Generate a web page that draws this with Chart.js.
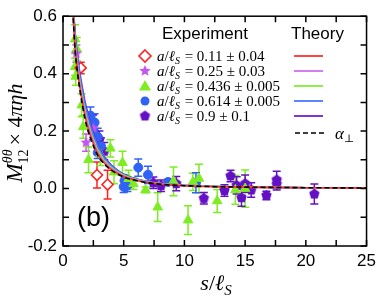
<!DOCTYPE html>
<html><head><meta charset="utf-8">
<script src="https://cdn.jsdelivr.net/npm/chart.js@4/dist/chart.umd.min.js"></script>
<style>html,body{margin:0;padding:0;background:#fff;}#wrap{width:381px;height:298px;}</style>
</head><body><div id="wrap"><canvas id="c" width="381" height="298"></canvas></div>
<script>
// ---- data ----
const xTickLabels = ['0','5','10','15','20','25'];
const yTickLabels = ['-0.2','0.0','0.2','0.4','0.6'];
const seriesNames = ['0.11 \u00b1 0.04','0.25 \u00b1 0.03','0.436 \u00b1 0.005','0.614 \u00b1 0.005','0.9 \u00b1 0.1'];

const redX   = [1.46, 2.8, 3.67];
const redY   = [0.42, 0.047, 0.014];
const redErr = [0.02, 0.045, 0.05];

const magX   = [1.1, 1.9, 2.5];
const magY   = [0.47, 0.16, 0.21];
const magErr = [0.03, 0.03, 0.03];

const greenX   = [1.0, 1.13, 1.0, 1.05, 1.54, 1.67, 2.1, 3.07, 3.9, 4.2, 4.9, 5.4, 5.8, 6.8, 7.8, 9.1, 10.3, 10.7, 11.2, 12.7, 14.2, 15.0];
const greenY   = [0.52, 0.486, 0.424, 0.39, 0.29, 0.215, 0.10, 0.12, 0.14, 0.057, 0.09, 0.034, 0.017, -0.005, -0.065, 0.025, -0.11, 0.023, 0.035, -0.043, -0.005, 0.0];
const greenErr = [0.05, 0.04, 0.03, 0.03, 0.04, 0.04, 0.045, 0.04, 0.03, 0.04, 0.04, 0.03, 0.02, 0.01, 0.05, 0.05, 0.05, 0.03, 0.05, 0.04, 0.05, 0.065];

const blueX   = [2.26, 2.45, 2.6, 2.86, 3.13, 2.86, 5.0, 5.07, 5.3, 6.2, 7.0, 8.66, 10.95];
const blueY   = [0.254, 0.2, 0.23, 0.18, 0.147, 0.125, 0.006, 0.028, 0.01, 0.073, 0.048, 0.023, 0.02];
const blueErr = [0.03, 0.03, 0.03, 0.03, 0.03, 0.02, 0.02, 0.02, 0.02, 0.03, 0.03, 0.01, 0.035];

const purX   = [2.48, 3.0, 3.4, 7.44, 8.07, 9.33, 11.6, 13.3, 13.8, 14.3, 14.7, 15.0, 15.5, 16.75, 17.6, 17.6, 20.7];
const purY   = [0.226, 0.17, 0.13, 0.02, 0.01, 0.017, -0.034, -0.007, 0.044, 0.011, -0.032, 0.017, -0.005, -0.024, 0.03, 0.015, -0.019];
const purErr = [0.03, 0.03, 0.03, 0.02, 0.02, 0.025, 0.02, 0.02, 0.02, 0.03, 0.03, 0.03, 0.025, 0.015, 0.03, 0.02, 0.035];

const theoryX  = [0.8, 1.0, 1.2, 1.4, 1.6, 1.8, 2.0, 2.4, 2.8, 3.2, 3.6, 4.0, 5.0, 6.0, 7.0, 8.0, 10, 12, 15, 20, 25];
const thRed    = [0.63, 0.49, 0.41, 0.35, 0.30, 0.255, 0.22, 0.167, 0.126, 0.099, 0.080, 0.066, 0.042, 0.029, 0.021, 0.016, 0.010, 0.007, 0.005, 0.003, 0.002];
const thMag    = [0.64, 0.50, 0.42, 0.36, 0.31, 0.265, 0.23, 0.175, 0.133, 0.104, 0.084, 0.069, 0.044, 0.030, 0.022, 0.016, 0.011, 0.007, 0.005, 0.003, 0.002];
const thGreen  = [0.65, 0.51, 0.43, 0.37, 0.32, 0.275, 0.24, 0.183, 0.140, 0.109, 0.088, 0.072, 0.046, 0.031, 0.023, 0.017, 0.011, 0.008, 0.005, 0.003, 0.002];
const thBlue   = [0.67, 0.53, 0.45, 0.39, 0.34, 0.295, 0.26, 0.200, 0.155, 0.121, 0.097, 0.079, 0.049, 0.033, 0.024, 0.018, 0.011, 0.008, 0.005, 0.003, 0.002];
const thPur    = [0.68, 0.54, 0.46, 0.40, 0.35, 0.305, 0.27, 0.207, 0.160, 0.125, 0.100, 0.081, 0.050, 0.034, 0.024, 0.018, 0.011, 0.008, 0.005, 0.003, 0.002];
const thPerp   = [0.62, 0.48, 0.40, 0.34, 0.29, 0.245, 0.21, 0.160, 0.120, 0.095, 0.077, 0.063, 0.040, 0.028, 0.020, 0.015, 0.010, 0.007, 0.005, 0.003, 0.002];

// ---- styles ----
const C_RED = '#ff2222', C_MAG = '#c455f0', C_GREEN = '#7ded22', C_BLUE = '#2f62f5', C_PUR = '#6410c4';
const L_RED = '#ff3030', L_MAG = '#cc70f0', L_GREEN = '#80f030', L_BLUE = '#4a78ff', L_PUR = '#7020d8';

function polyCanvas(color, n, r, rot, inner) {
  const s = Math.ceil(r * 2 + 2), cv = document.createElement('canvas');
  cv.width = s; cv.height = s;
  const g = cv.getContext('2d'); g.fillStyle = color; g.beginPath();
  const cx = s / 2, cy = s / 2, pts = inner ? n * 2 : n;
  for (let i = 0; i < pts; i++) {
    const a = rot + i * 2 * Math.PI / pts;
    const rr = inner && (i % 2) ? r * inner : r;
    const px = cx + rr * Math.cos(a), py = cy + rr * Math.sin(a);
    i ? g.lineTo(px, py) : g.moveTo(px, py);
  }
  g.closePath(); g.fill(); return cv;
}
const starImg = polyCanvas(C_MAG, 5, 6, -Math.PI / 2, 0.45);
const pentImg = polyCanvas(C_PUR, 5, 5.5, -Math.PI / 2, 0);

function pts(xs, ys) { return xs.map((x, i) => ({ x: x, y: ys[i] })); }

const expSets = [
  { data: pts(redX, redY), err: redErr, color: C_RED, pointStyle: 'rectRot', pointRadius: 5.5, backgroundColor: '#ffffff', borderColor: C_RED, borderWidth: 1.6 },
  { data: pts(magX, magY), err: magErr, color: C_MAG, pointStyle: starImg, pointRadius: 6, backgroundColor: C_MAG, borderColor: C_MAG },
  { data: pts(greenX, greenY), err: greenErr, color: C_GREEN, pointStyle: 'triangle', pointRadius: 5.5, backgroundColor: C_GREEN, borderColor: C_GREEN, borderWidth: 1 },
  { data: pts(blueX, blueY), err: blueErr, color: C_BLUE, pointStyle: 'circle', pointRadius: 4.5, backgroundColor: C_BLUE, borderColor: C_BLUE, borderWidth: 1 },
  { data: pts(purX, purY), err: purErr, color: C_PUR, pointStyle: pentImg, pointRadius: 5.5, backgroundColor: C_PUR, borderColor: C_PUR }
].map(d => Object.assign({ type: 'scatter', showLine: false, order: 2 }, d));

function line(ys, color, dash) {
  return { type: 'scatter', data: pts(theoryX, ys), showLine: true, pointRadius: 0, borderColor: color,
    borderWidth: 1.6, borderDash: dash || [], cubicInterpolationMode: 'monotone', order: 1, fill: false };
}
const lineSets = [ line(thPerp, '#000000', [5, 3]), line(thRed, L_RED), line(thMag, L_MAG), line(thGreen, L_GREEN), line(thBlue, L_BLUE), line(thPur, L_PUR) ];

// ---- rich text helper ----
const SERIF = '"Liberation Serif", "DejaVu Serif", serif';
const SANS = '"Liberation Sans", Arial, sans-serif';
function rich(ctx, x, y, segs, align) {
  let w = 0;
  segs.forEach(s => { ctx.font = s.f; s.w = ctx.measureText(s.t).width + (s.sp || 0); w += s.w; });
  let cx = align === 'center' ? x - w / 2 : (align === 'right' ? x - w : x);
  ctx.textBaseline = 'alphabetic'; ctx.textAlign = 'left';
  segs.forEach(s => { ctx.font = s.f; ctx.fillText(s.t, cx, y + (s.dy || 0)); cx += s.w; });
}

const decor = {
  id: 'decor',
  beforeDatasetsDraw(chart) {
    const ctx = chart.ctx, xs = chart.scales.x, ys = chart.scales.y, a = chart.chartArea;
    ctx.save(); ctx.beginPath(); ctx.rect(a.left, a.top, a.right - a.left, a.bottom - a.top); ctx.clip();
    chart.data.datasets.forEach(ds => {
      if (!ds.err) return;
      ctx.strokeStyle = ds.color; ctx.lineWidth = 1.5;
      ds.data.forEach((p, i) => {
        const px = xs.getPixelForValue(p.x), y1 = ys.getPixelForValue(p.y + ds.err[i]), y2 = ys.getPixelForValue(p.y - ds.err[i]);
        ctx.beginPath(); ctx.moveTo(px, y1); ctx.lineTo(px, y2);
        ctx.moveTo(px - 4, y1); ctx.lineTo(px + 4, y1); ctx.moveTo(px - 4, y2); ctx.lineTo(px + 4, y2); ctx.stroke();
      });
    });
    ctx.restore();
  },
  afterDraw(chart) {
    const ctx = chart.ctx, xs = chart.scales.x, ys = chart.scales.y, a = chart.chartArea;
    ctx.save();
    // frame + inward ticks on all sides
    ctx.strokeStyle = '#000'; ctx.lineWidth = 1.5;
    ctx.strokeRect(a.left, a.top, a.right - a.left, a.bottom - a.top);
    ctx.beginPath();
    xs.ticks.forEach(t => { const p = xs.getPixelForValue(t.value); ctx.moveTo(p, a.bottom); ctx.lineTo(p, a.bottom - 6); ctx.moveTo(p, a.top); ctx.lineTo(p, a.top + 6); });
    ys.ticks.forEach(t => { const p = ys.getPixelForValue(t.value); ctx.moveTo(a.left, p); ctx.lineTo(a.left + 6, p); ctx.moveTo(a.right, p); ctx.lineTo(a.right - 6, p); });
    ctx.stroke();
    ctx.fillStyle = '#000';
    // legend headers
    ctx.font = '17px ' + SANS; ctx.textAlign = 'left'; ctx.textBaseline = 'alphabetic';
    ctx.fillText('Experiment', 162, 39); ctx.fillText('Theory', 291, 39);
    const rowsY = [56, 71, 86, 101, 116];
    const lineCols = [L_RED, L_MAG, L_GREEN, L_BLUE, L_PUR];
    const it = 'italic 15px ' + SERIF, up = '15px ' + SERIF, sub = 'italic 10px ' + SERIF;
    rowsY.forEach((ry, i) => {
      const mx = 145;
      const ds = expSets[i];
      if (i === 0) { ctx.strokeStyle = C_RED; ctx.lineWidth = 1.6; ctx.fillStyle = '#fff'; ctx.beginPath(); ctx.moveTo(mx, ry - 6); ctx.lineTo(mx + 6, ry); ctx.lineTo(mx, ry + 6); ctx.lineTo(mx - 6, ry); ctx.closePath(); ctx.fill(); ctx.stroke(); }
      else if (i === 1) ctx.drawImage(starImg, mx - starImg.width / 2, ry - starImg.height / 2);
      else if (i === 2) { ctx.fillStyle = C_GREEN; ctx.beginPath(); ctx.moveTo(mx, ry - 6); ctx.lineTo(mx + 6, ry + 4.5); ctx.lineTo(mx - 6, ry + 4.5); ctx.closePath(); ctx.fill(); }
      else if (i === 3) { ctx.fillStyle = C_BLUE; ctx.beginPath(); ctx.arc(mx, ry, 4.5, 0, 2 * Math.PI); ctx.fill(); }
      else ctx.drawImage(pentImg, mx - pentImg.width / 2, ry - pentImg.height / 2);
      ctx.fillStyle = '#000';
      rich(ctx, 157, ry + 5, [{ t: 'a', f: it }, { t: '/', f: up }, { t: '\u2113', f: it }, { t: 'S', f: sub, dy: 3, sp: 1 }, { t: ' = ' + seriesNames[i], f: up }], 'left');
      ctx.strokeStyle = lineCols[i]; ctx.lineWidth = 1.8; ctx.setLineDash([]);
      ctx.beginPath(); ctx.moveTo(294, ry); ctx.lineTo(323, ry); ctx.stroke();
    });
    // alpha perp row
    ctx.strokeStyle = '#000'; ctx.lineWidth = 1.6; ctx.setLineDash([5, 3]);
    ctx.beginPath(); ctx.moveTo(295, 133); ctx.lineTo(324, 133); ctx.stroke(); ctx.setLineDash([]);
    rich(ctx, 335, 139, [{ t: '\u03b1', f: 'italic 17px ' + SERIF }, { t: '\u22a5', f: '11px ' + SERIF, dy: 3 }], 'left');
    // (b)
    ctx.font = '27px ' + SANS; ctx.fillText('(b)', 77, 226);
    // x title
    rich(ctx, 216, 290, [{ t: 's', f: 'italic 22px ' + SERIF }, { t: '/', f: '22px ' + SERIF }, { t: '\u2113', f: 'italic 22px ' + SERIF }, { t: 'S', f: 'italic 15px ' + SERIF, dy: 5 }], 'center');
    // y title (rotated)
    ctx.translate(22, 133); ctx.rotate(-Math.PI / 2);
    rich(ctx, 0, 0, [
      { t: 'M', f: 'italic 23px ' + SERIF },
      { t: '\u03b8\u03b8', f: 'italic 14px ' + SERIF, dy: -10, sp: -14 },
      { t: '12', f: '14px ' + SERIF, dy: 6, sp: 4 },
      { t: '\u00d7 4', f: '22px ' + SERIF },
      { t: '\u03c0\u03b7h', f: 'italic 22px ' + SERIF }
    ], 'center');
    ctx.restore();
  }
};

new Chart(document.getElementById('c'), {
  type: 'scatter',
  data: { datasets: lineSets.concat(expSets) },
  options: {
    responsive: false, animation: false, devicePixelRatio: 1,
    layout: { padding: { top: 10, right: 9, left: 0, bottom: 0 } },
    plugins: { legend: { display: false }, tooltip: { enabled: false } },
    scales: {
      x: {
        type: 'linear', min: 0, max: 25,
        grid: { display: false, drawTicks: false }, border: { display: false },
        afterFit: s => { s.height = 52; },
        ticks: { stepSize: 2.5, autoSkip: false, maxRotation: 0, padding: 5, color: '#000', font: { family: SANS, size: 17 },
          callback: v => { const k = Math.round(v * 2); return k % 10 === 0 ? xTickLabels[k / 10] : ''; } }
      },
      y: {
        type: 'linear', min: -0.2, max: 0.6,
        grid: { display: false, drawTicks: false }, border: { display: false },
        afterFit: s => { s.width = 63; },
        ticks: { stepSize: 0.1, autoSkip: false, padding: 6, color: '#000', font: { family: SANS, size: 17 },
          callback: v => { const k = Math.round(v * 10); return (k % 2 === 0) ? yTickLabels[(k + 2) / 2] : ''; } }
      }
    }
  },
  plugins: [decor]
});
</script></body></html>
